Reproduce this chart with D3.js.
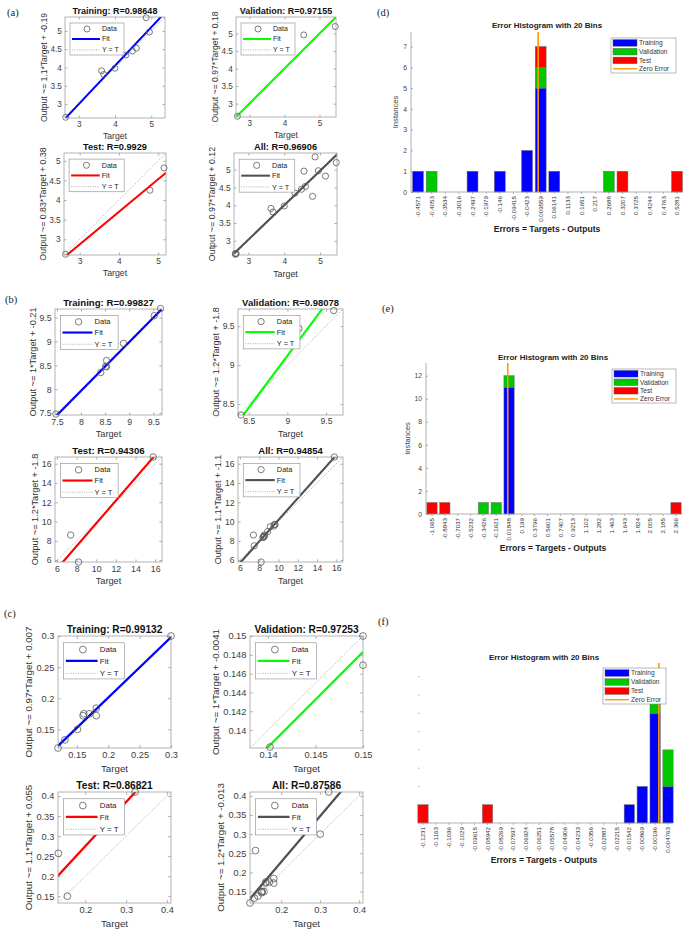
<!DOCTYPE html>
<html><head><meta charset="utf-8">
<script src="https://cdn.jsdelivr.net/npm/d3@7"></script>
<style>
body{margin:0;background:#fff;}
svg{display:block;}
</style></head><body>
<svg id="chart" width="685" height="934"></svg>
<script>
// ================= DATA =================
// ---- Panel (a) regression ----
const aTitles = ["Training: R=0.98648","Validation: R=0.97155","Test: R=0.9929","All: R=0.96906"];
const aYLabels = ["Output ~= 1.1*Target + -0.19","Output ~= 0.97*Target + 0.18","Output ~= 0.83*Target + 0.38","Output ~= 0.97*Target + 0.12"];
const aFitSlope = [1.05, 1.0, 0.83, 0.97];
const aFitIntercept = [-0.15, 0.0, 0.38, 0.12];
const aLimits = [[2.62,5.38],[2.62,5.47],[2.6,5.2],[2.6,5.47]];
const aXTicks = [[3,4,5],[3,4,5],[3,4,5],[3,4,5]];
const aYTicks = [[3,3.5,4,4.5,5],[3,3.5,4,4.5,5],[3,3.5,4,4.5,5],[3,3.5,4,4.5,5]];
const aTrainTarget = [2.64,3.63,3.69,4.00,4.30,4.48,4.59,4.86,4.95];
const aTrainOutput = [2.64,3.91,3.81,3.98,4.34,4.45,4.53,5.36,4.97];
const aValTarget = [2.66,4.55,5.45];
const aValOutput = [2.64,4.96,5.20];
const aTestTarget = [2.64,4.79,5.15];
const aTestOutput = [2.62,4.25,4.82];

// ---- Panel (b) regression ----
const bTitles = ["Training: R=0.99827","Validation: R=0.98078","Test: R=0.94306","All: R=0.94854"];
const bYLabels = ["Output ~= 1*Target + -0.21","Output ~= 1.2*Target + -1.8","Output ~= 1.2*Target + -1.8","Output ~= 1.1*Target + -1.1"];
const bFitSlope = [1.022, 1.33, 1.18, 1.12];
const bFitIntercept = [-0.21, -2.85, -1.99, -1.03];
const bLimits = [[7.46,9.68],[8.36,9.72],[5.8,16.7],[5.8,16.7]];
const bXTicks = [[7.5,8,8.5,9,9.5],[8.5,9,9.5],[6,8,10,12,14,16],[6,8,10,12,14,16]];
const bYTicks = [[7.5,8,8.5,9,9.5],[8.5,9,9.5],[6,8,10,12,14,16],[6,8,10,12,14,16]];
const bTrainTarget = [7.48,8.41,8.51,8.53,8.53,8.88,9.52,9.65];
const bTrainOutput = [7.48,8.35,8.48,8.47,8.60,8.96,9.54,9.69];
const bValTarget = [8.40,9.15,9.60];
const bValOutput = [8.36,9.47,9.70];
const bTestTarget = [7.40,8.20,15.8];
const bTestOutput = [8.60,5.80,16.7];

// ---- Panel (c) regression ----
const cTitles = ["Training: R=0.99132","Validation: R=0.97253","Test: R=0.86821","All: R=0.87586"];
const cYLabels = ["Output ~= 0.97*Target + 0.007","Output ~= 1*Target + -0.0041","Output ~= 1.1*Target + 0.055","Output ~= 1.2*Target + -0.013"];
const cFitSlope = [0.97, 1.01, 1.1, 1.2];
const cFitIntercept = [0.007, -0.0032, 0.055, -0.013];
const cLimits = [[0.12,0.30],[0.1381,0.15],[0.133,0.41],[0.12,0.41]];
const cXTicks = [[0.15,0.2,0.25,0.3],[0.14,0.145,0.15],[0.2,0.3,0.4],[0.2,0.3,0.4]];
const cYTicks = [[0.15,0.2,0.25,0.3],[0.14,0.142,0.144,0.146,0.148,0.15],[0.15,0.2,0.25,0.3,0.35,0.4],[0.15,0.2,0.25,0.3,0.35,0.4]];
const cTrainTarget = [0.120,0.131,0.151,0.160,0.161,0.170,0.181,0.181,0.300];
const cTrainOutput = [0.120,0.133,0.150,0.172,0.175,0.175,0.184,0.172,0.300];
const cValTarget = [0.1402,0.150,0.150];
const cValOutput = [0.1382,0.150,0.1469];
const cTestTarget = [0.134,0.156,0.322];
const cTestOutput = [0.257,0.150,0.410];

// ---- Error histograms ----
const histTitle = "Error Histogram with 20 Bins";
const histXLabel = "Errors = Targets - Outputs";
const histKeys = ["Training","Validation","Test"];
const dBins = ["-0.4571","-0.4053","-0.3534","-0.3016","-0.2497","-0.1979","-0.146","-0.09415","-0.0423","0.009559","0.06141","0.1133","0.1651","0.217","0.2688","0.3207","0.3725","0.4244","0.4763","0.5281"];
const dTrain = [1,0,0,0,1,0,1,0,2,5,1,0,0,0,0,0,0,0,0,0];
const dVal   = [0,1,0,0,0,0,0,0,0,1,0,0,0,0,1,0,0,0,0,0];
const dTest  = [0,0,0,0,0,0,0,0,0,1,0,0,0,0,0,1,0,0,0,1];
const dYTicks = [0,1,2,3,4,5,6,7];
const dYMax = 7.7;
const eBins = ["-1.065","-0.8843","-0.7037","-0.5232","-0.3426","-0.1621","0.01848","0.199","0.3796","0.5601","0.7407","0.9213","1.102","1.282","1.463","1.643","1.824","2.005","2.185","2.366"];
const eTrain = [0,0,0,0,0,0,11,0,0,0,0,0,0,0,0,0,0,0,0,0];
const eVal   = [0,0,0,0,1,1,1,0,0,0,0,0,0,0,0,0,0,0,0,0];
const eTest  = [1,1,0,0,0,0,0,0,0,0,0,0,0,0,0,0,0,0,0,1];
const eYTicks = [0,2,4,6,8,10,12];
const eYMax = 13.1;
const fBins = ["-0.1231","-0.1163","-0.1096","-0.1029","-0.09615","-0.08942","-0.08269","-0.07597","-0.06924","-0.06251","-0.05578","-0.04906","-0.04233","-0.0356","-0.02887","-0.02215","-0.01542","-0.00869","-0.00196","0.004763"];
const fTrain = [0,0,0,0,0,0,0,0,0,0,0,0,0,0,0,0,1,2,6,2];
const fVal   = [0,0,0,0,0,0,0,0,0,0,0,0,0,0,0,0,0,0,2,2];
const fTest  = [1,0,0,0,0,1,0,0,0,0,0,0,0,0,0,0,0,0,0,0];
const fYTicks = [1,2,3,4,5,6,7,8];
const fYMax = 8.75;

const panelLetters = ["(a)","(b)","(c)","(d)","(e)","(f)"];

// ================= DRAWING =================
const FONT = '"Liberation Sans", Arial, Helvetica, sans-serif';
const svg = d3.select("#chart");
const fitColors = ["#0000ff","#00ff00","#ff0000","#505050"];
const histColors = ["#0000ff","#00c800","#ff0000"];
const zeroColor = "#ff9900";

function zip(a,b){ return a.map((v,i)=>[v,b[i]]); }

function styleAxis(sel, fs, col){
  sel.attr("font-size", null).attr("font-family", null);
  sel.select(".domain").remove();
  sel.selectAll(".tick line").attr("stroke","#8c8c8c").attr("stroke-width",0.7);
  sel.selectAll(".tick text").attr("fill",col||"#404040").attr("font-size",fs).attr("font-family",FONT);
}

let clipCount = 0;
function regPlot(p){
  const s = p.w/100;
  const [lo,hi] = p.lim;
  const x = d3.scaleLinear().domain([lo,hi]).range([p.x,p.x+p.w]);
  const y = d3.scaleLinear().domain([lo,hi]).range([p.y+p.h,p.y]);
  const g = svg.append("g");
  const cid = "clip"+(clipCount++);
  g.append("clipPath").attr("id",cid).append("rect")
    .attr("x",p.x).attr("y",p.y).attr("width",p.w).attr("height",p.h);
  const tl = 2.5*s, fs = 8.2*s;
  const gx = g.append("g").attr("transform",`translate(0,${p.y+p.h})`)
    .call(d3.axisBottom(x).tickValues(p.xt).tickSizeInner(-tl).tickSizeOuter(0).tickPadding(3.2*s).tickFormat(d=>String(d)));
  styleAxis(gx,fs);
  const gxt = g.append("g").attr("transform",`translate(0,${p.y})`)
    .call(d3.axisTop(x).tickValues(p.xt).tickSizeInner(-tl).tickSizeOuter(0).tickFormat(""));
  styleAxis(gxt,fs);
  const gy = g.append("g").attr("transform",`translate(${p.x},0)`)
    .call(d3.axisLeft(y).tickValues(p.yt).tickSizeInner(-tl).tickSizeOuter(0).tickPadding(3.2*s).tickFormat(d=>String(d)));
  styleAxis(gy,fs);
  const gyr = g.append("g").attr("transform",`translate(${p.x+p.w},0)`)
    .call(d3.axisRight(y).tickValues(p.yt).tickSizeInner(-tl).tickSizeOuter(0).tickFormat(""));
  styleAxis(gyr,fs);

  const lg = g.append("g").attr("clip-path",`url(#${cid})`);
  lg.append("line").attr("x1",x(lo)).attr("y1",y(lo)).attr("x2",x(hi)).attr("y2",y(hi))
    .attr("stroke","#9a9a9a").attr("stroke-width",0.8).attr("stroke-dasharray","1,1.4");
  lg.append("line").attr("x1",x(lo)).attr("y1",y(p.m*lo+p.b)).attr("x2",x(hi)).attr("y2",y(p.m*hi+p.b))
    .attr("stroke",p.color).attr("stroke-width",2*s);
  g.append("rect").attr("x",p.x).attr("y",p.y).attr("width",p.w).attr("height",p.h)
    .attr("fill","none").attr("stroke","#a0a0a0").attr("stroke-width",0.8);
  g.selectAll(null).data(p.pts).join("circle")
    .attr("cx",d=>x(d[0])).attr("cy",d=>y(d[1])).attr("r",3*s)
    .attr("fill","none").attr("stroke","#5a5a5a").attr("stroke-width",0.8);

  // legend
  const lx = p.x+5*s, ly = p.y+6*s, lw = 54*s, lh = 32*s;
  const leg = g.append("g");
  leg.append("rect").attr("x",lx).attr("y",ly).attr("width",lw).attr("height",lh)
    .attr("fill","#fff").attr("stroke","#8a8a8a").attr("stroke-width",0.6);
  const rows = [ly+6*s, ly+16*s, ly+27*s];
  leg.append("circle").attr("cx",lx+17*s).attr("cy",rows[0]).attr("r",3*s)
    .attr("fill","none").attr("stroke","#5a5a5a").attr("stroke-width",0.8);
  leg.append("line").attr("x1",lx+2*s).attr("x2",lx+30*s).attr("y1",rows[1]).attr("y2",rows[1])
    .attr("stroke",p.color).attr("stroke-width",2*s);
  leg.append("line").attr("x1",lx+2*s).attr("x2",lx+30*s).attr("y1",rows[2]).attr("y2",rows[2])
    .attr("stroke","#9a9a9a").attr("stroke-width",0.8).attr("stroke-dasharray","1,1.4");
  ["Data","Fit","Y = T"].forEach((t,i)=>{
    leg.append("text").attr("x",lx+32*s).attr("y",rows[i]).attr("dy","0.35em")
      .attr("font-family",FONT).attr("font-size",7*s).attr("fill","#222").text(t);
  });

  // title
  g.append("text").attr("x",p.x+p.w/2).attr("y",p.y-3*s).attr("text-anchor","middle")
    .attr("font-family",FONT).attr("font-weight","bold").attr("font-size",9*s).attr("fill","#111").text(p.title);
  // x label
  g.append("text").attr("x",p.x+p.w/2).attr("y",p.y+p.h+21*s).attr("text-anchor","middle")
    .attr("font-family",FONT).attr("font-size",8.6*s).attr("fill","#333").text("Target");
  // y label (bbox is in the axis group's own coordinates)
  const bb = gy.node().getBBox();
  const yx = p.x + bb.x - 3.5*s, yy = p.y+p.h/2;
  g.append("text").attr("transform",`translate(${yx},${yy}) rotate(-90)`).attr("text-anchor","middle")
    .attr("font-family",FONT).attr("font-size",8.6*s).attr("fill","#333").text(p.ylabel);
}

function histPlot(h){
  const g = svg.append("g");
  const centers = h.bins.map(Number);
  const n = centers.length;
  const x = d3.scaleLinear().domain([centers[0],centers[n-1]]).range([h.c0,h.c1]);
  const y = d3.scaleLinear().domain([0,h.yMax]).range([h.base,h.top]);
  const bw = (h.c1-h.c0)/(n-1)*0.8;
  const rows = centers.map((c,i)=>({c, Training:h.train[i], Validation:h.val[i], Test:h.test[i]}));
  const series = d3.stack().keys(histKeys)(rows);
  series.forEach((ser,si)=>{
    g.selectAll(null).data(ser.filter(d=>d[1]>d[0])).join("rect")
      .attr("x",d=>x(d.data.c)-bw/2).attr("width",bw)
      .attr("y",d=>y(d[1])).attr("height",d=>y(d[0])-y(d[1]))
      .attr("fill",histColors[si]).attr("stroke","#707070").attr("stroke-width",0.5);
  });
  g.append("line").attr("x1",h.left).attr("x2",h.right).attr("y1",h.base).attr("y2",h.base)
    .attr("stroke","#8c8c8c").attr("stroke-width",0.7);
  g.selectAll(null).data(centers).join("line")
    .attr("x1",d=>x(d)).attr("x2",d=>x(d)).attr("y1",h.base).attr("y2",h.base+2)
    .attr("stroke","#8c8c8c").attr("stroke-width",0.6);
  if(h.yAxis){
    g.append("line").attr("x1",h.left).attr("x2",h.left).attr("y1",h.top).attr("y2",h.base)
      .attr("stroke","#8c8c8c").attr("stroke-width",0.7);
    const gy = g.append("g").attr("transform",`translate(${h.left},0)`)
      .call(d3.axisLeft(y).tickValues(h.yTicks).tickSizeInner(-2).tickSizeOuter(0).tickPadding(4).tickFormat(d=>String(d)));
    styleAxis(gy,6.8,"#444");
    g.append("text").attr("transform",`translate(${h.ylabX},${(h.top+h.base)/2}) rotate(-90)`)
      .attr("text-anchor","middle").attr("font-family",FONT).attr("font-size",7.6).attr("fill","#444").text("Instances");
  } else {
    g.selectAll(null).data(h.yTicks).join("line")
      .attr("x1",h.left).attr("x2",h.left+1.5).attr("y1",d=>y(d)).attr("y2",d=>y(d))
      .attr("stroke","#9a9a9a").attr("stroke-width",0.8);
  }
  g.append("line").attr("x1",x(0)).attr("x2",x(0)).attr("y1",h.top).attr("y2",h.base)
    .attr("stroke",zeroColor).attr("stroke-width",1.6);
  g.selectAll(null).data(h.bins).join("text")
    .attr("transform",(d,i)=>`translate(${x(centers[i])},${h.base+4}) rotate(-90)`)
    .attr("text-anchor","end").attr("dy","0.35em")
    .attr("font-family",FONT).attr("font-size",6.2).attr("fill","#333").text(d=>d);
  g.append("text").attr("x",h.titleX).attr("y",h.titleY).attr("text-anchor","middle")
    .attr("font-family",FONT).attr("font-weight","bold").attr("font-size",8).attr("fill","#222").text(histTitle);
  g.append("text").attr("x",h.titleX).attr("y",h.xlabY).attr("text-anchor","middle")
    .attr("font-family",FONT).attr("font-weight","bold").attr("font-size",8.6).attr("fill","#222").text(histXLabel);
  const L = h.leg;
  const leg = g.append("g");
  leg.append("rect").attr("x",L.x).attr("y",L.y).attr("width",L.w).attr("height",L.h)
    .attr("fill","#fff").attr("stroke","#8a8a8a").attr("stroke-width",0.6);
  const ry = [0.14,0.39,0.64,0.88].map(f=>L.y+f*L.h);
  const labels = ["Training","Validation","Test","Zero Error"];
  labels.forEach((t,i)=>{
    if(i<3){
      leg.append("rect").attr("x",L.x+2).attr("y",ry[i]-3.3).attr("width",24).attr("height",6.6)
        .attr("fill",histColors[i]).attr("stroke","#555").attr("stroke-width",0.4);
    } else {
      leg.append("line").attr("x1",L.x+2).attr("x2",L.x+26).attr("y1",ry[i]).attr("y2",ry[i])
        .attr("stroke",zeroColor).attr("stroke-width",1.4);
    }
    leg.append("text").attr("x",L.x+28).attr("y",ry[i]).attr("dy","0.35em")
      .attr("font-family",FONT).attr("font-size",6.6).attr("fill","#333").text(t);
  });
}

// ---- layout of the regression panels ----
const regFrames = {
  a: [{x:65,y:17,w:100,h:101},{x:236,y:17,w:100,h:100},{x:64,y:153,w:102,h:102},{x:234,y:153,w:103,h:102}],
  b: [{x:55,y:309,w:107,h:106},{x:238,y:309,w:105,h:106},{x:55,y:457,w:107,h:105},{x:238,y:457,w:105,h:105}],
  c: [{x:58,y:636,w:113,h:112},{x:250,y:636,w:113,h:112},{x:58,y:792,w:113,h:111},{x:250,y:792,w:113,h:111}]
};
const regData = {
  a: {titles:aTitles, ylab:aYLabels, m:aFitSlope, b:aFitIntercept, lim:aLimits, xt:aXTicks, yt:aYTicks,
      tr:zip(aTrainTarget,aTrainOutput), va:zip(aValTarget,aValOutput), te:zip(aTestTarget,aTestOutput)},
  b: {titles:bTitles, ylab:bYLabels, m:bFitSlope, b:bFitIntercept, lim:bLimits, xt:bXTicks, yt:bYTicks,
      tr:zip(bTrainTarget,bTrainOutput), va:zip(bValTarget,bValOutput), te:zip(bTestTarget,bTestOutput)},
  c: {titles:cTitles, ylab:cYLabels, m:cFitSlope, b:cFitIntercept, lim:cLimits, xt:cXTicks, yt:cYTicks,
      tr:zip(cTrainTarget,cTrainOutput), va:zip(cValTarget,cValOutput), te:zip(cTestTarget,cTestOutput)}
};
["a","b","c"].forEach(key=>{
  const D = regData[key];
  const sets = [D.tr, D.va, D.te, D.tr.concat(D.va, D.te)];
  regFrames[key].forEach((f,i)=>{
    regPlot(Object.assign({}, f, {
      lim:D.lim[i], xt:D.xt[i], yt:D.yt[i], m:D.m[i], b:D.b[i],
      color:fitColors[i], title:D.titles[i], ylabel:D.ylab[i], pts:sets[i]
    }));
  });
});

// ---- histograms ----
histPlot({bins:dBins, train:dTrain, val:dVal, test:dTest, yTicks:dYTicks, yMax:dYMax, yAxis:true,
  left:411, right:683, base:192, top:32, c0:418, c1:677, ylabX:398,
  titleX:547, titleY:28, xlabY:232, leg:{x:611,y:38,w:65,h:35}});
histPlot({bins:eBins, train:eTrain, val:eVal, test:eTest, yTicks:eYTicks, yMax:eYMax, yAxis:true,
  left:426, right:682, base:514, top:363, c0:432, c1:676, ylabX:410,
  titleX:553, titleY:360, xlabY:551, leg:{x:612,y:369,w:64,h:34}});
histPlot({bins:fBins, train:fTrain, val:fVal, test:fTest, yTicks:fYTicks, yMax:fYMax, yAxis:false,
  left:418, right:672, base:823, top:663, c0:423, c1:668, ylabX:0,
  titleX:544, titleY:660, xlabY:863, leg:{x:603,y:668,w:63,h:36}});

// ---- panel letters ----
const letterPos = [[7,16],[5,303],[4,617],[377,16],[382,312],[378,625]];
panelLetters.forEach((t,i)=>{
  svg.append("text").attr("x",letterPos[i][0]).attr("y",letterPos[i][1])
    .attr("font-family",'"Liberation Serif", "Times New Roman", serif').attr("font-size",10.5).attr("fill","#222").text(t);
});
</script>
</body></html>
